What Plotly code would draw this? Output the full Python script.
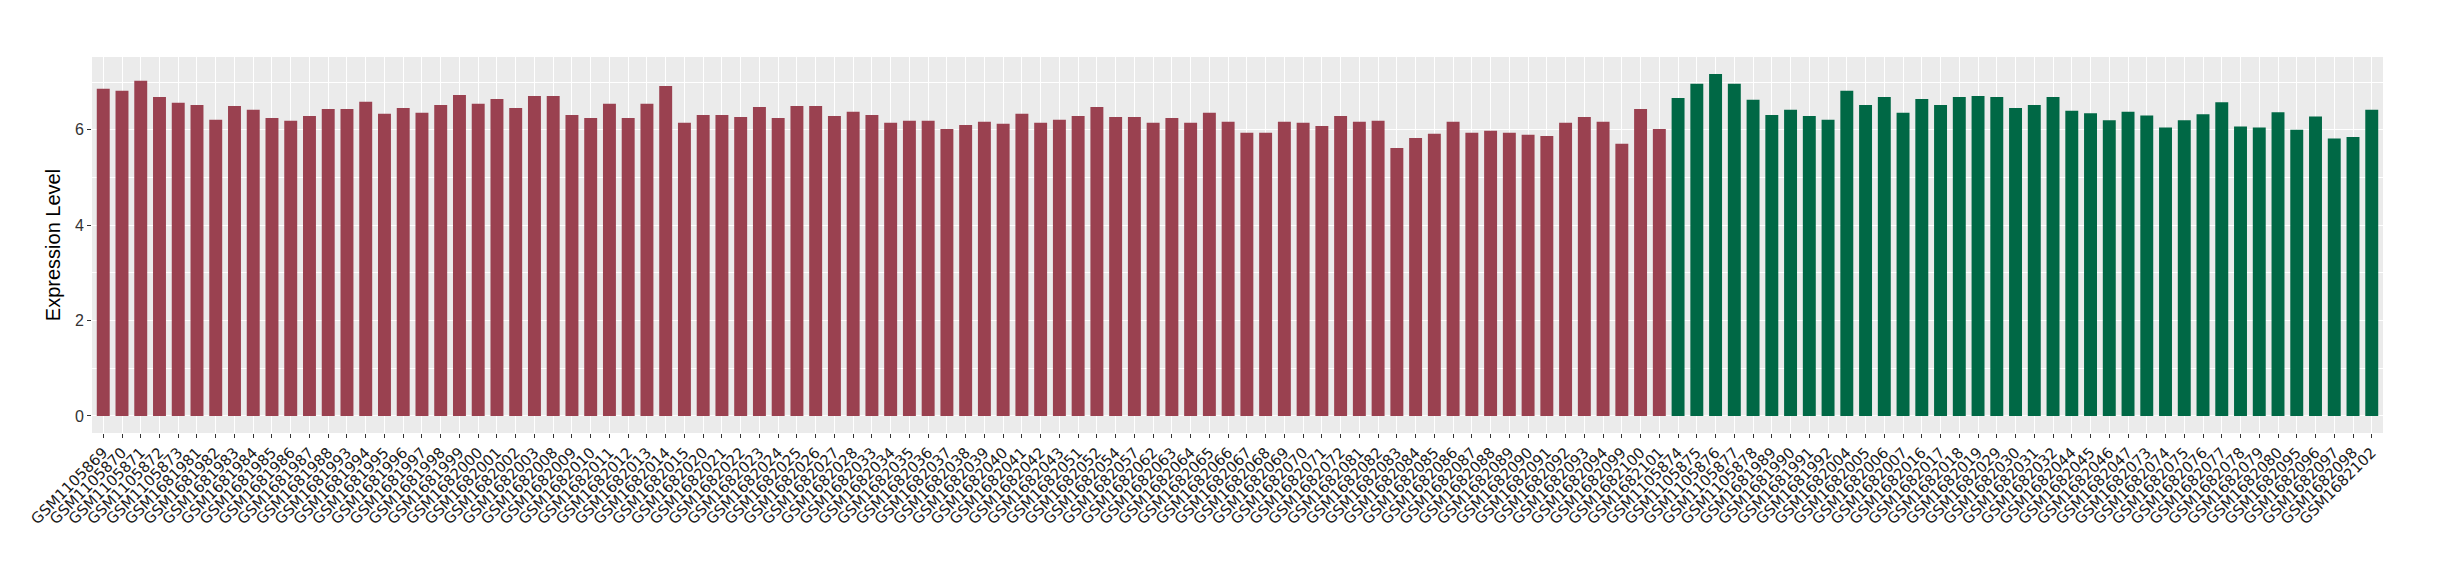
import plotly.graph_objects as go

group1_samples = [
    "GSM1105869", "GSM1105870", "GSM1105871", "GSM1105872", "GSM1105873",
    "GSM1681981", "GSM1681982", "GSM1681983", "GSM1681984", "GSM1681985",
    "GSM1681986", "GSM1681987", "GSM1681988", "GSM1681993", "GSM1681994",
    "GSM1681995", "GSM1681996", "GSM1681997", "GSM1681998", "GSM1681999",
    "GSM1682000", "GSM1682001", "GSM1682002", "GSM1682003", "GSM1682008",
    "GSM1682009", "GSM1682010", "GSM1682011", "GSM1682012", "GSM1682013",
    "GSM1682014", "GSM1682015", "GSM1682020", "GSM1682021", "GSM1682022",
    "GSM1682023", "GSM1682024", "GSM1682025", "GSM1682026", "GSM1682027",
    "GSM1682028", "GSM1682033", "GSM1682034", "GSM1682035", "GSM1682036",
    "GSM1682037", "GSM1682038", "GSM1682039", "GSM1682040", "GSM1682041",
    "GSM1682042", "GSM1682043", "GSM1682051", "GSM1682052", "GSM1682054",
    "GSM1682057", "GSM1682062", "GSM1682063", "GSM1682064", "GSM1682065",
    "GSM1682066", "GSM1682067", "GSM1682068", "GSM1682069", "GSM1682070",
    "GSM1682071", "GSM1682072", "GSM1682081", "GSM1682082", "GSM1682083",
    "GSM1682084", "GSM1682085", "GSM1682086", "GSM1682087", "GSM1682088",
    "GSM1682089", "GSM1682090", "GSM1682091", "GSM1682092", "GSM1682093",
    "GSM1682094", "GSM1682099", "GSM1682100", "GSM1682101",
]
group1_values = [
    6.86, 6.82, 7.03, 6.69, 6.57, 6.52, 6.21, 6.50, 6.42, 6.25,
    6.19, 6.29, 6.44, 6.44, 6.59, 6.34, 6.46, 6.36, 6.52, 6.73,
    6.55, 6.65, 6.46, 6.71, 6.71, 6.31, 6.25, 6.55, 6.25, 6.55,
    6.92, 6.15, 6.31, 6.31, 6.27, 6.48, 6.25, 6.50, 6.50, 6.29,
    6.38, 6.31, 6.15, 6.19, 6.19, 6.02, 6.10, 6.17, 6.13, 6.34,
    6.15, 6.21, 6.29, 6.48, 6.27, 6.27, 6.15, 6.25, 6.15, 6.36,
    6.17, 5.94, 5.94, 6.17, 6.15, 6.08, 6.29, 6.17, 6.19, 5.62,
    5.83, 5.92, 6.17, 5.94, 5.98, 5.94, 5.90, 5.87, 6.15, 6.27,
    6.17, 5.71, 6.44, 6.02,
]

group2_samples = [
    "GSM1105874", "GSM1105875", "GSM1105876", "GSM1105877", "GSM1105878",
    "GSM1681989", "GSM1681990", "GSM1681991", "GSM1681992", "GSM1682004",
    "GSM1682005", "GSM1682006", "GSM1682007", "GSM1682016", "GSM1682017",
    "GSM1682018", "GSM1682019", "GSM1682029", "GSM1682030", "GSM1682031",
    "GSM1682032", "GSM1682044", "GSM1682045", "GSM1682046", "GSM1682047",
    "GSM1682073", "GSM1682074", "GSM1682075", "GSM1682076", "GSM1682077",
    "GSM1682078", "GSM1682079", "GSM1682080", "GSM1682095", "GSM1682096",
    "GSM1682097", "GSM1682098", "GSM1682102",
]
group2_values = [
    6.67, 6.97, 7.17, 6.97, 6.63, 6.31, 6.42, 6.29, 6.21, 6.82,
    6.52, 6.69, 6.36, 6.65, 6.52, 6.69, 6.71, 6.69, 6.46, 6.52,
    6.69, 6.40, 6.35, 6.20, 6.38, 6.30, 6.05, 6.20, 6.33, 6.58,
    6.07, 6.05, 6.37, 6.00, 6.28, 5.82, 5.85, 6.42,
]

y_ticks = [0, 2, 4, 6]
y_title = "Expression Level"

fig = go.Figure()
fig.add_trace(go.Bar(x=group1_samples, y=group1_values, marker_color="#9A4150",
                     marker_line_width=0, showlegend=False))
fig.add_trace(go.Bar(x=group2_samples, y=group2_values, marker_color="#006845",
                     marker_line_width=0, showlegend=False))

n = len(group1_samples) + len(group2_samples)
ymax = max(group1_values + group2_values)

# page body has an 8px default margin; compensate
fig.update_layout(
    width=2432, height=572,
    margin=dict(l=84, r=57, t=49, b=147),
    paper_bgcolor="white", plot_bgcolor="#EBEBEB",
    bargap=0.31,
    font=dict(family="Liberation Sans, Arial", color="#1a1a1a"),
)
fig.update_xaxes(
    automargin=False,
    categoryorder="array", categoryarray=group1_samples + group2_samples,
    range=[-0.6, n - 0.4],
    tickangle=-45, tickfont=dict(family="DejaVu Sans", size=15, color="#1a1a1a"),
    showgrid=True, gridcolor="white", gridwidth=1.4,
    ticks="outside", ticklen=4, tickcolor="#333333", tickwidth=1,
    zeroline=False, showline=False,
)
fig.update_yaxes(
    automargin=False,
    range=[-0.05 * ymax, ymax * 1.05],
    tickvals=y_ticks, ticktext=[str(v) for v in y_ticks],
    tickfont=dict(family="Liberation Sans, Arial", size=16, color="#333333"),
    showgrid=True, gridcolor="white", gridwidth=1.4,
    minor=dict(tickvals=[1, 3, 5, 7], showgrid=True, gridcolor="white", gridwidth=0.7, ticks=""),
    ticks="outside", ticklen=4, tickcolor="#333333", tickwidth=1,
    zeroline=False, showline=False,
    title=dict(text=y_title, font=dict(family="Liberation Sans, Arial", size=20, color="black"), standoff=8),
)

fig.write_html("out.html")
